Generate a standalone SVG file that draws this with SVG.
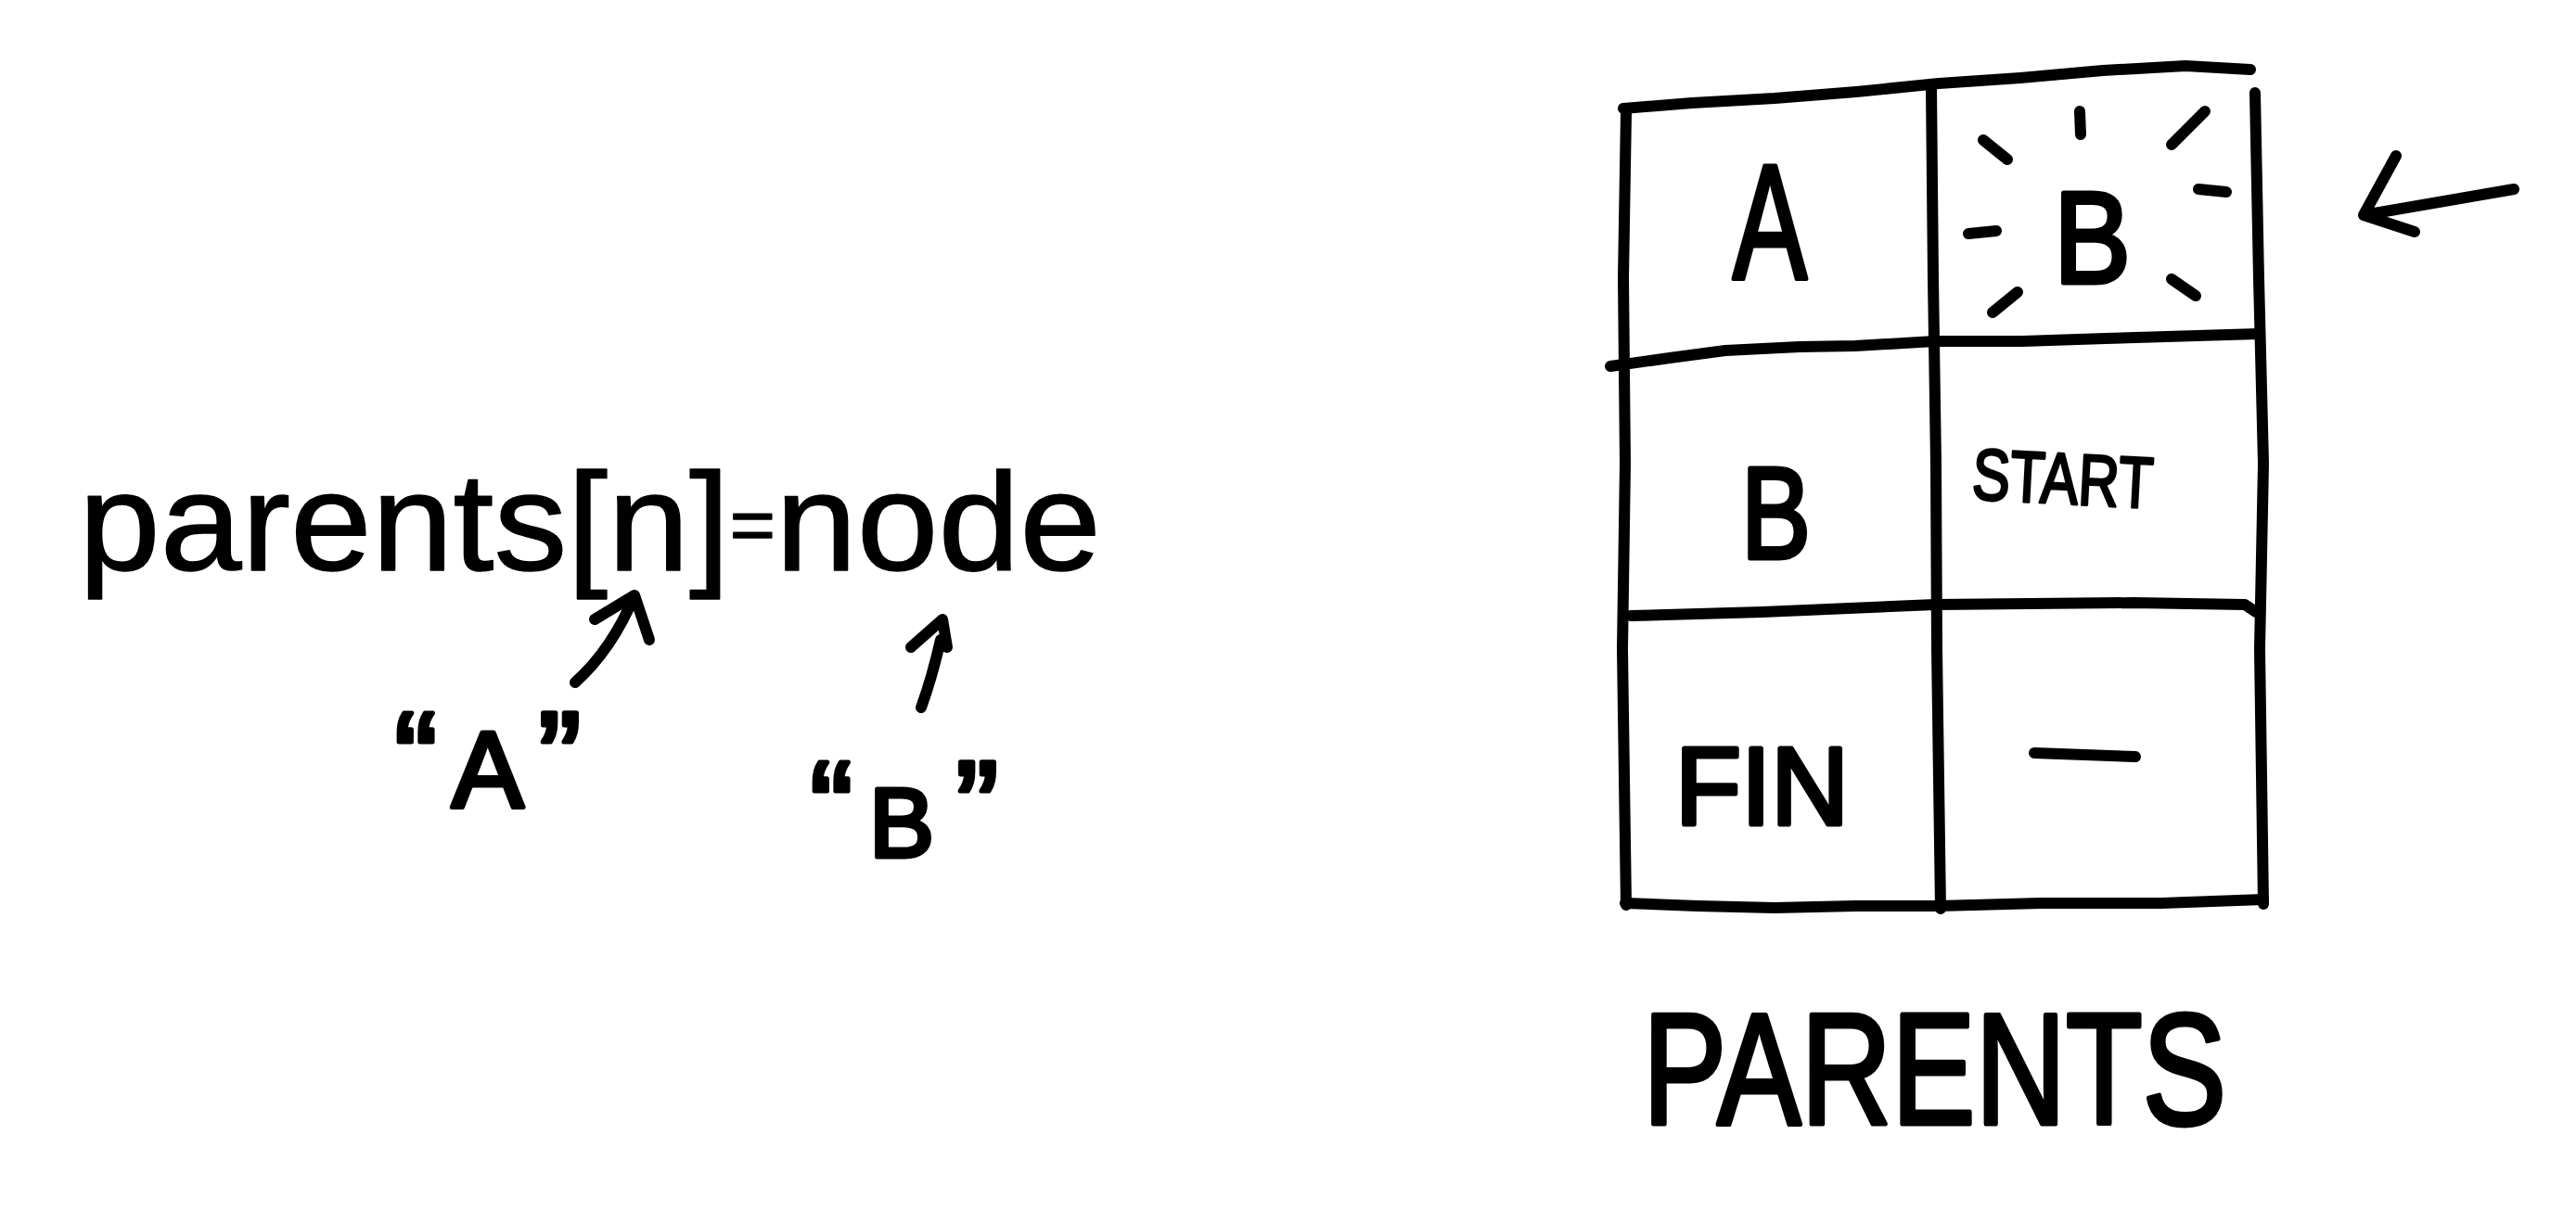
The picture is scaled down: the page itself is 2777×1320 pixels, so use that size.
<svg xmlns="http://www.w3.org/2000/svg" width="2777" height="1320" viewBox="0 0 2777 1320">
<style>
.ln{fill:none;stroke:#000;stroke-width:12;stroke-linecap:round;stroke-linejoin:round}
.ar{fill:none;stroke:#000;stroke-width:12;stroke-linecap:round;stroke-linejoin:round}
.t{font-family:"Liberation Sans","DejaVu Sans",sans-serif;fill:#000;stroke:#000;stroke-width:5;stroke-linejoin:round}
.s{stroke-width:3}
.f{stroke-width:1.5}
</style>
<rect width="2777" height="1320" fill="#fff"/>
<g id="table">
<polyline class="ln" points="1750,117 1824,111 1913,106 2001,99 2090,90 2178,84 2267,76 2356,71 2426,75"/>
<polyline class="ln" points="1753,122 1750,300 1752,500 1749,700 1753,976"/>
<polyline class="ln" points="2082,93 2084,300 2087,500 2088,700 2092,980"/>
<polyline class="ln" points="2431,100 2435,300 2440,500 2436,700 2440,975"/>
<polyline class="ln" points="1736,395 1800,386 1860,378 1940,374 2000,373 2086,368 2180,368 2270,365 2435,360"/>
<polyline class="ln" points="1758,664 1900,660 2086,652 2300,650 2420,652 2432,660"/>
<polyline class="ln" points="1752,974 1830,977 1913,979 2000,977 2090,977 2200,974 2330,974 2440,970"/>
</g>
<g id="cell-a">
<text class="t" x="1868" y="301" font-size="177" textLength="80" lengthAdjust="spacingAndGlyphs">A</text>
</g>
<g id="cell-b-highlight">
<text class="t" x="2214" y="305" font-size="141" textLength="83" lengthAdjust="spacingAndGlyphs">B</text>
<path class="ln" d="M2242,120 L2243,145 M2138,151 L2164,172 M2341,156 L2377,120 M2122,252 L2152,249 M2370,204 L2400,207 M2148,337 L2175,315 M2341,301 L2367,319"/>
</g>
<g id="cell-b">
<text class="t" x="1877" y="602" font-size="141" textLength="75" lengthAdjust="spacingAndGlyphs">B</text>
</g>
<g id="cell-start">
<text class="t s" x="2125" y="538" font-size="78" textLength="195" lengthAdjust="spacingAndGlyphs" transform="rotate(3 2125 538)">START</text>
</g>
<g id="cell-fin">
<text class="t" x="1806" y="889" font-size="118" textLength="187" lengthAdjust="spacingAndGlyphs">FIN</text>
</g>
<g id="cell-none">
<path class="ln" d="M2193,812 L2302,816"/>
</g>
<g id="label-parents">
<text class="t" x="1771" y="1212" font-size="170" textLength="629" lengthAdjust="spacingAndGlyphs">PARENTS</text>
</g>
<g id="formula">
<text class="t f" x="85" y="615" font-size="150" textLength="1102" lengthAdjust="spacingAndGlyphs">parents[n]<tspan font-size="80" dy="-22">=</tspan><tspan dy="22">node</tspan></text>
</g>
<g id="label-a">
<text class="t" y="871" font-size="116"><tspan x="425" y="865" font-size="140">“</tspan><tspan x="487" y="871">A</tspan><tspan x="580" y="865" font-size="140">”</tspan></text>
</g>
<g id="label-b">
<text class="t" y="924" font-size="105"><tspan x="873" y="918" font-size="140">“</tspan><tspan x="937" y="924">B</tspan><tspan x="1030" y="918" font-size="140">”</tspan></text>
</g>
<g id="connectors">
<path class="ar" d="M620,736 Q660,700 684,642 M641,668 L684,642 L700,690"/>
<path class="ar" d="M982,698 L1016,668 L1021,698 M1014,690 Q1005,730 993,763"/>
<path class="ar" stroke-width="15" d="M2710,204 L2548,232 M2583,168 L2548,232 L2603,250"/>
</g>
</svg>
